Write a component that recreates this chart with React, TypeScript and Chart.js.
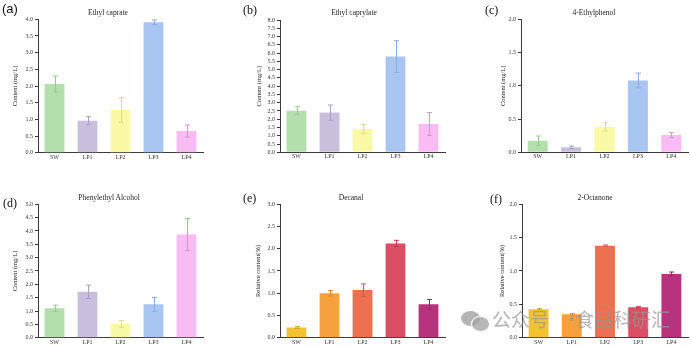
import React, { useEffect, useRef } from "react";
import { Chart, registerables } from "chart.js";
Chart.register(...registerables);

const categories = ["SW", "LP1", "LP2", "LP3", "LP4"];

const ethylCaprate = [2.06, 0.96, 1.28, 3.91, 0.65];
const ethylCaprateErr = [0.24, 0.12, 0.37, 0.07, 0.18];

const ethylCaprylate = [2.52, 2.4, 1.41, 5.79, 1.71];
const ethylCaprylateErr = [0.24, 0.46, 0.28, 0.96, 0.69];

const ethylphenol = [0.175, 0.075, 0.386, 1.08, 0.26];
const ethylphenolErr = [0.07, 0.02, 0.065, 0.11, 0.04];

const phenylethylAlcohol = [1.1, 1.72, 0.51, 1.25, 3.87];
const phenylethylAlcoholErr = [0.12, 0.25, 0.13, 0.26, 0.6];

const decanal = [0.23, 1.0, 1.07, 2.12, 0.75];
const decanalErr = [0.02, 0.06, 0.14, 0.07, 0.11];

const octanone = [0.425, 0.35, 1.38, 0.455, 0.955];
const octanoneErr = [0.01, 0.01, 0.01, 0.01, 0.03];

const pastel = ["#b2dfab", "#c9bfdd", "#fafaa6", "#a9c5f1", "#f8bbf4"];
const pastelErr = ["#9cc896", "#a99fc4", "#dcdc8c", "#8eaadb", "#d796d3"];
const warm = ["#f3c231", "#f6a13d", "#ec7151", "#dc4e63", "#b8337d"];
const warmErr = ["#d6a62a", "#db8a30", "#d25c42", "#c13d52", "#9a2767"];

const FONT = "'Liberation Serif', 'Times New Roman', serif";
const AXIS = "#3a3a3a";

type PanelProps = {
  left: number; top: number; w: number; h: number;
  yWidth: number; padTop: number; padRight: number; xHeight: number;
  titlePad: number; yTitle: string; yMax: number;
  values: number[]; errors: number[]; colors: string[]; errColors: string[];
};

function Panel(p: PanelProps) {
  const ref = useRef<HTMLCanvasElement | null>(null);
  useEffect(() => {
    if (!ref.current) return;
    const errPlugin = {
      id: "errbars",
      afterDatasetsDraw(chart: any) {
        const ctx = chart.ctx;
        const meta = chart.getDatasetMeta(0);
        const ys = chart.scales.y;
        ctx.save();
        ctx.lineWidth = 1;
        meta.data.forEach((bar: any, i: number) => {
          const v = p.values[i];
          const e = p.errors[i];
          const x = Math.round(bar.x) + 0.5;
          const yHi = ys.getPixelForValue(v + e);
          const yLo = ys.getPixelForValue(v - e);
          ctx.strokeStyle = p.errColors[i];
          ctx.beginPath();
          ctx.moveTo(x, yLo);
          ctx.lineTo(x, yHi);
          ctx.moveTo(x - 2.5, yHi);
          ctx.lineTo(x + 2.5, yHi);
          ctx.moveTo(x - 2.5, yLo);
          ctx.lineTo(x + 2.5, yLo);
          ctx.stroke();
        });
        ctx.restore();
      },
    };
    const chart = new Chart(ref.current, {
      type: "bar",
      data: {
        labels: categories,
        datasets: [
          {
            data: p.values,
            backgroundColor: p.colors,
            borderWidth: 0,
            barPercentage: 0.6,
            categoryPercentage: 1,
          },
        ],
      },
      options: {
        animation: false,
        responsive: false,
        maintainAspectRatio: false,
        devicePixelRatio: 1,
        layout: { padding: { top: p.padTop, right: p.padRight, left: 0, bottom: 0 } },
        plugins: { legend: { display: false }, tooltip: { enabled: false }, title: { display: false } },
        scales: {
          x: {
            grid: { display: false, drawTicks: false },
            border: { display: true, color: AXIS, width: 1 },
            ticks: { font: { family: FONT, size: 6 }, color: "#333", padding: 1, autoSkip: false, maxRotation: 0 },
            afterFit: (s: any) => { s.height = p.xHeight; },
          },
          y: {
            min: 0,
            max: p.yMax,
            ticks: {
              stepSize: 0.5,
              autoSkip: false,
              callback: (v: any) => Number(v).toFixed(1),
              font: { family: FONT, size: 6 },
              color: "#333",
              padding: 2,
            },
            grid: { drawOnChartArea: false, drawTicks: true, tickLength: 3, color: AXIS },
            border: { display: true, color: AXIS, width: 1 },
            title: {
              display: true,
              text: p.yTitle,
              font: { family: FONT, size: 6.5 },
              color: "#222",
              padding: { top: p.titlePad, bottom: 0 },
            },
            afterFit: (s: any) => { s.width = p.yWidth; },
          },
        },
      } as any,
      plugins: [errPlugin],
    });
    return () => chart.destroy();
  }, []);
  return (
    <canvas
      ref={ref}
      width={p.w}
      height={p.h}
      style={{ position: "absolute", left: p.left, top: p.top, width: p.w, height: p.h }}
    />
  );
}

const label = (text: string, left: number, top: number, size: number, family: string) => (
  <div
    style={{
      position: "absolute", left, top, fontSize: size, lineHeight: `${size}px`,
      fontFamily: family, color: "#111", whiteSpace: "nowrap",
    }}
  >
    {text}
  </div>
);

const title = (text: string, cx: number, cy: number) => (
  <div
    style={{
      position: "absolute", left: cx, top: cy, transform: "translate(-50%, -50%)",
      fontSize: 7.5, lineHeight: "9px", fontFamily: FONT, color: "#222", whiteSpace: "nowrap",
    }}
  >
    {text}
  </div>
);

export default function App() {
  const WM = "rgba(150,150,150,0.7)";
  const cjk = "'Noto Sans CJK SC', sans-serif";
  return (
    <div style={{ position: "fixed", left: 0, top: 0, width: 691, height: 347, background: "#fff", overflow: "hidden" }}>
      <Panel left={0} top={0} w={210} h={168} yWidth={38} padTop={19.3} padRight={7} xHeight={15.3}
        titlePad={11} yTitle="Content (mg/L)" yMax={4}
        values={ethylCaprate} errors={ethylCaprateErr} colors={pastel} errColors={pastelErr} />
      <Panel left={230} top={0} w={220} h={168} yWidth={50} padTop={20} padRight={5} xHeight={15.7}
        titlePad={25} yTitle="Content (mg/L)" yMax={8}
        values={ethylCaprylate} errors={ethylCaprylateErr} colors={pastel} errColors={pastelErr} />
      <Panel left={460} top={0} w={231} h={168} yWidth={61} padTop={19.3} padRight={3} xHeight={15.7}
        titlePad={39} yTitle="Content (mg/L)" yMax={2}
        values={ethylphenol} errors={ethylphenolErr} colors={pastel} errColors={pastelErr} />
      <Panel left={0} top={170} w={210} h={177} yWidth={38} padTop={34.3} padRight={7} xHeight={9.3}
        titlePad={11} yTitle="Content (mg/L)" yMax={5}
        values={phenylethylAlcohol} errors={phenylethylAlcoholErr} colors={pastel} errColors={pastelErr} />
      <Panel left={230} top={170} w={220} h={177} yWidth={50} padTop={34.3} padRight={5} xHeight={9.3}
        titlePad={24} yTitle="Relative content(%)" yMax={3}
        values={decanal} errors={decanalErr} colors={warm} errColors={warmErr} />
      <Panel left={460} top={170} w={231} h={177} yWidth={62} padTop={34.3} padRight={3} xHeight={9.3}
        titlePad={38} yTitle="Relative content(%)" yMax={2}
        values={octanone} errors={octanoneErr} colors={warm} errColors={warmErr} />

      {label("(a)", 2, 2, 13, "'Liberation Sans', Arial, sans-serif")}
      {label("(b)", 243, 4, 12, FONT)}
      {label("(c)", 485, 4, 12, FONT)}
      {label("(d)", 3, 197, 12, FONT)}
      {label("(e)", 243, 192, 12, FONT)}
      {label("(f)", 490, 193, 12, FONT)}

      {title("Ethyl caprate", 108, 12)}
      {title("Ethyl caprylate", 354, 12)}
      {title("4-Ethylphenol", 594, 12)}
      {title("Phenylethyl Alcohol", 109, 197)}
      {title("Decanal", 351, 197)}
      {title("2-Octanone", 595, 197)}

      <div style={{ position: "absolute", left: 461, top: 311, width: 19, height: 15, borderRadius: "50%", background: WM }} />
      <div style={{ position: "absolute", left: 471, top: 316, width: 17, height: 14, borderRadius: "50%", background: "rgba(165,165,165,0.8)", border: "1px solid #fff" }} />
      <div style={{ position: "absolute", left: 492, top: 309, fontSize: 19, lineHeight: "19px", fontFamily: cjk, color: WM, whiteSpace: "nowrap" }}>公众号</div>
      <div style={{ position: "absolute", left: 562, top: 309, fontSize: 19, lineHeight: "19px", fontFamily: cjk, color: WM, whiteSpace: "nowrap" }}>·</div>
      <div style={{ position: "absolute", left: 575, top: 309, fontSize: 19, lineHeight: "19px", fontFamily: cjk, color: WM, whiteSpace: "nowrap" }}>食品科研汇</div>
    </div>
  );
}
